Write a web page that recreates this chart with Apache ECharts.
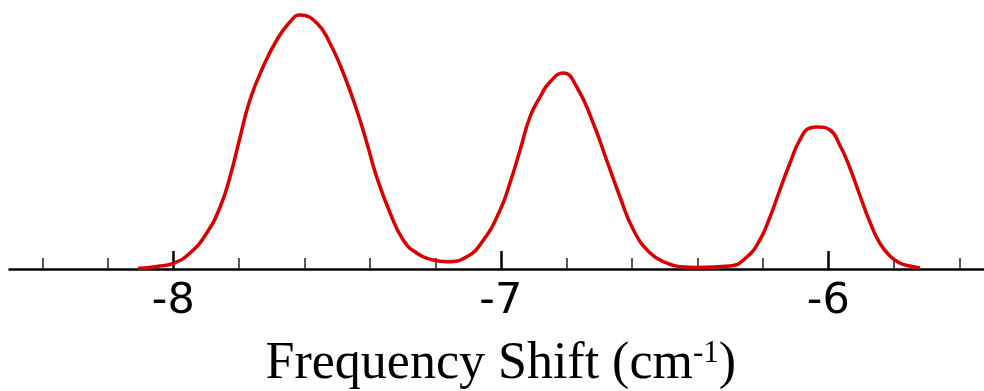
<!DOCTYPE html>
<html>
<head>
<meta charset="utf-8">
<script src="https://cdn.jsdelivr.net/npm/echarts@6/dist/echarts.min.js"></script>
<style>
  html, body { margin: 0; padding: 0; background: #fff; }
  #chart { width: 984px; height: 391px; }
</style>
</head>
<body>
<div id="chart"></div>
<script>
// frequency shift (cm-1)
const freq = [-8.108, -8.05, -8.000, -7.949, -7.898, -7.857, -7.827, -7.796, -7.766, -7.726,
  -7.684, -7.644, -7.613, -7.562, -7.522, -7.481, -7.440, -7.409, -7.379, -7.338,
  -7.298, -7.257, -7.206, -7.165, -7.104, -7.053, -7.002, -6.972, -6.941, -6.911,
  -6.880, -6.850, -6.809, -6.768, -6.718, -6.677, -6.636, -6.595, -6.544, -6.493,
  -6.453, -6.402, -6.300, -6.249, -6.209, -6.178, -6.148, -6.117, -6.087, -6.056,
  -6.032, -5.995, -5.965, -5.934, -5.904, -5.873, -5.843, -5.812, -5.782, -5.751, -5.720]
// intensity (arbitrary units)
const intensity = [0.5, 2.5, 5.7, 16, 36, 62, 92, 132, 169, 202,
  229, 247, 254, 246, 226, 196, 159, 126, 92, 56,
  29, 16, 9, 7.3, 12.3, 29, 59, 86, 119, 152,
  172, 187, 196, 182, 146, 109, 72, 39, 16, 6,
  2.3, 1.5, 3, 12, 29, 52, 79, 106, 129, 141,
  142, 139, 124, 101, 74, 47, 26, 13, 6, 3, 1]
const majorTicks = [-9, -8, -7, -6, -5]

const chart = echarts.init(document.getElementById('chart'))

chart.setOption({
  backgroundColor: '#fff',
  animation: false,
  grid: [
    // ticks + curve (extends past the window so -8..-6 sit where they should)
    { left: -154.2, top: 0, width: 1310, bottom: 122, containLabel: false, outerBoundsMode: 'none' },
    // visible axis line
    { left: 9.5, right: 0, top: 0, bottom: 122, containLabel: false, outerBoundsMode: 'none' }
  ],
  xAxis: [
    {
      gridIndex: 0,
      type: 'value',
      min: majorTicks[0],
      max: majorTicks[majorTicks.length - 1],
      interval: 1,
      axisLine: { show: false },
      axisTick: { show: true, inside: true, length: 18, lineStyle: { color: '#000', width: 2.5 } },
      minorTick: { show: true, splitNumber: 5, length: 11, lineStyle: { color: '#222', width: 1.5 } },
      splitLine: { show: false },
      axisLabel: {
        margin: 11,
        fontFamily: 'DejaVu Sans',
        fontSize: 43,
        color: '#000'
      },
      name: '{a|Frequency Shift (cm}{s|-1}{a|)}',
      nameLocation: 'middle',
      nameGap: 69,
      nameTextStyle: {
        rich: {
          a: { fontFamily: 'Liberation Serif', fontSize: 52, color: '#000' },
          s: { fontFamily: 'Liberation Serif', fontSize: 31, color: '#000', verticalAlign: 'top' }
        }
      }
    },
    {
      gridIndex: 1,
      type: 'value',
      min: -8.5,
      max: -5.525,
      axisLine: { show: true, lineStyle: { color: '#000', width: 2.5 } },
      axisTick: { show: false },
      axisLabel: { show: false },
      splitLine: { show: false }
    }
  ],
  yAxis: [
    { gridIndex: 0, type: 'value', min: 0, max: 269, show: false },
    { gridIndex: 1, type: 'value', min: 0, max: 269, show: false }
  ],
  series: [{
    type: 'line',
    xAxisIndex: 0,
    yAxisIndex: 0,
    data: freq.map((f, i) => [f, intensity[i]]),
    smooth: 0.5,
    showSymbol: false,
    lineStyle: { color: '#d90000', width: 3.5 }
  }]
})
</script>
</body>
</html>
